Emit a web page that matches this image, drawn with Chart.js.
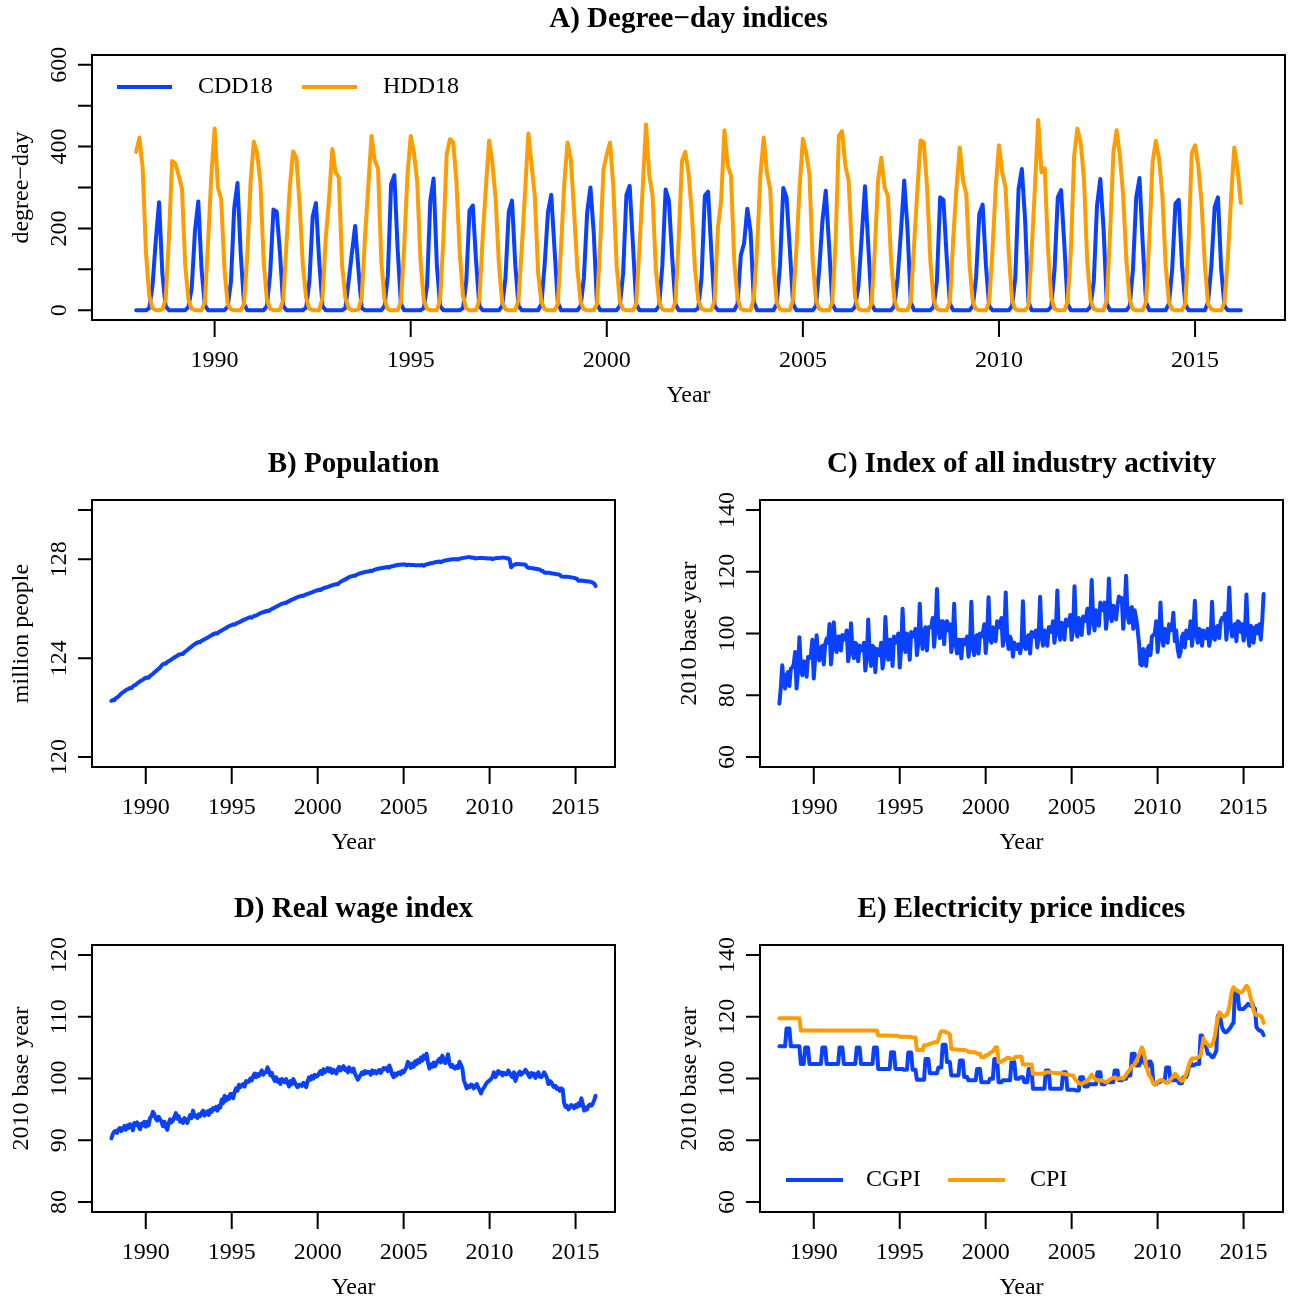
<!DOCTYPE html>
<html>
<head>
<meta charset="utf-8">
<script src="https://cdn.jsdelivr.net/npm/chart.js@4.4.0/dist/chart.umd.min.js"></script>
<style>
  body { margin: 0; background: #fff; }
  #page { position: relative; width: 1290px; height: 1298px; }
  #page canvas { position: absolute; left: 0; top: 0; }
</style>
</head>
<body>
<div id="page">
  <canvas id="panelA" width="1290" height="1298"></canvas>
  <canvas id="panelB" width="1290" height="1298"></canvas>
  <canvas id="panelC" width="1290" height="1298"></canvas>
  <canvas id="panelD" width="1290" height="1298"></canvas>
  <canvas id="panelE" width="1290" height="1298"></canvas>
</div>
<script>
// monthly series, Jan 1988 .. Mar 2016 (one row per year)
const cdd18 = [
  0,0,0,0,5,60,170,264,90,10,0,0,
  0,0,0,0,8,55,195,266,100,12,0,0,
  0,0,0,0,8,70,250,311,135,15,0,0,
  0,0,0,0,10,90,246,241,140,10,0,0,
  0,0,0,0,6,70,228,262,120,10,0,0,
  0,0,0,0,5,70,140,206,100,5,0,0,
  0,0,0,0,10,85,308,330,150,15,0,0,
  0,0,0,0,5,60,268,322,110,10,0,0,
  0,0,0,0,5,70,244,256,120,10,0,0,
  0,0,0,0,10,80,240,268,110,10,0,0,
  0,0,0,0,15,114,240,282,150,20,0,0,
  0,0,0,0,10,80,240,300,190,15,0,0,
  0,0,0,0,10,90,282,304,160,15,0,0,
  0,0,0,0,10,110,295,268,130,15,0,0,
  0,0,0,0,5,80,280,290,140,10,0,0,
  0,0,0,0,15,134,163,248,191,20,0,0,
  0,0,0,0,15,110,299,276,150,15,0,0,
  0,0,0,0,10,100,220,292,160,15,0,0,
  0,0,0,0,8,60,180,303,160,15,0,0,
  0,0,0,0,10,80,191,317,200,20,0,0,
  0,0,0,0,8,70,276,270,130,15,0,0,
  0,0,0,0,10,80,236,258,110,10,0,0,
  0,0,0,0,10,80,296,345,220,20,0,0,
  0,0,0,0,8,100,276,294,160,15,0,0,
  0,0,0,0,8,70,256,321,200,15,0,0,
  0,0,0,0,10,100,276,323,160,20,0,0,
  0,0,0,0,15,100,260,270,110,15,0,0,
  0,0,0,0,20,110,252,276,100,10,0,0,
  0,0,0
];

const hdd18 = [
  387,422,345,140,35,5,0,0,2,25,175,365,
  358,330,297,110,25,3,0,0,0,20,165,330,
  444,300,272,100,15,2,0,0,0,15,135,312,
  412,385,312,120,25,3,0,0,1,25,165,300,
  388,373,260,110,30,3,0,0,0,30,175,270,
  394,337,325,110,30,5,0,0,2,30,175,300,
  426,365,347,120,25,2,0,0,0,20,155,330,
  426,385,313,120,25,3,0,0,0,25,175,381,
  418,410,313,140,35,4,0,0,0,25,175,300,
  415,361,270,110,20,2,0,0,0,25,155,290,
  432,353,276,90,20,2,0,0,0,15,155,312,
  410,369,240,100,20,2,0,0,0,15,165,345,
  381,410,300,110,20,2,0,0,0,15,155,300,
  454,330,280,100,20,2,0,0,0,20,175,365,
  387,337,240,100,25,3,0,0,0,25,200,270,
  440,353,329,120,30,3,0,0,0,30,155,330,
  422,337,296,110,20,2,0,0,0,25,145,300,
  419,385,333,120,25,3,0,0,0,20,165,426,
  438,353,317,150,30,3,0,0,0,15,145,317,
  373,300,280,120,25,2,0,0,0,20,155,290,
  415,410,300,120,25,3,0,0,0,20,175,300,
  398,317,284,110,20,2,0,0,0,20,145,300,
  403,337,300,140,25,2,0,0,0,10,145,300,
  465,337,347,150,30,3,0,0,0,20,145,377,
  444,410,321,120,25,3,0,0,0,25,190,385,
  440,377,280,120,25,2,0,0,0,20,175,361,
  414,369,280,110,20,2,0,0,0,15,165,385,
  403,353,260,110,15,2,0,0,0,20,125,272,
  398,345,262
];

const population = [
  122.28,122.31,122.30,122.38,122.42,122.45,122.52,122.58,122.62,122.66,122.70,122.74,
  122.76,122.80,122.79,122.86,122.90,122.93,122.98,123.02,123.06,123.10,123.13,123.18,
  123.20,123.22,123.21,123.28,123.33,123.37,123.42,123.47,123.52,123.57,123.62,123.70,
  123.76,123.79,123.78,123.84,123.88,123.91,123.95,123.99,124.03,124.07,124.10,124.14,
  124.16,124.18,124.17,124.24,124.29,124.33,124.38,124.43,124.47,124.52,124.56,124.60,
  124.63,124.66,124.65,124.71,124.74,124.76,124.80,124.83,124.86,124.90,124.93,124.97,
  124.99,125.01,125.00,125.06,125.09,125.12,125.16,125.19,125.22,125.26,125.29,125.32,
  125.34,125.37,125.36,125.40,125.43,125.45,125.48,125.51,125.54,125.57,125.59,125.62,
  125.64,125.66,125.64,125.69,125.71,125.73,125.76,125.79,125.82,125.84,125.86,125.88,
  125.90,125.92,125.91,125.96,125.99,126.02,126.05,126.08,126.11,126.14,126.17,126.20,
  126.22,126.24,126.23,126.28,126.31,126.34,126.37,126.39,126.42,126.45,126.47,126.49,
  126.51,126.53,126.52,126.56,126.58,126.60,126.62,126.64,126.66,126.69,126.71,126.73,
  126.75,126.77,126.76,126.80,126.83,126.85,126.87,126.89,126.91,126.93,126.95,126.97,
  126.98,127.00,126.99,127.05,127.09,127.12,127.15,127.18,127.21,127.25,127.28,127.30,
  127.32,127.34,127.33,127.37,127.40,127.42,127.44,127.46,127.47,127.49,127.50,127.51,
  127.52,127.54,127.53,127.56,127.58,127.60,127.62,127.63,127.64,127.65,127.66,127.67,
  127.68,127.69,127.67,127.71,127.72,127.73,127.75,127.76,127.77,127.78,127.78,127.79,
  127.79,127.80,127.76,127.78,127.78,127.77,127.77,127.77,127.76,127.76,127.76,127.76,
  127.76,127.77,127.74,127.78,127.80,127.81,127.83,127.84,127.85,127.87,127.88,127.89,
  127.90,127.91,127.88,127.92,127.94,127.95,127.96,127.97,127.98,127.99,128.00,128.00,
  128.00,128.01,127.99,128.02,128.04,128.05,128.06,128.07,128.08,128.09,128.09,128.08,
  128.06,128.07,128.03,128.04,128.05,128.05,128.05,128.05,128.05,128.04,128.04,128.03,
  128.03,128.04,128.00,128.03,128.04,128.05,128.05,128.06,128.06,128.07,128.07,128.06,
  128.03,128.04,128.00,127.68,127.74,127.78,127.80,127.81,127.81,127.80,127.80,127.79,
  127.79,127.78,127.70,127.66,127.65,127.65,127.64,127.63,127.62,127.61,127.60,127.58,
  127.54,127.53,127.47,127.46,127.46,127.46,127.45,127.44,127.43,127.42,127.41,127.40,
  127.39,127.37,127.31,127.30,127.30,127.30,127.30,127.29,127.28,127.27,127.26,127.25,
  127.23,127.21,127.13,127.13,127.14,127.13,127.12,127.11,127.11,127.10,127.10,127.08,
  127.05,127.02,126.92
];

const industryIndex = [
  77.3,82.5,89.7,84.0,82.2,86.5,87.5,83.0,88.6,89.0,90.0,94.0,
  82.2,88.0,98.8,89.0,86.5,91.0,90.7,86.0,92.4,92.0,93.0,98.0,
  85.4,92.0,99.4,93.0,91.3,95.5,96.0,90.0,96.7,98.3,97.0,103.1,
  90.0,95.0,103.6,96.0,94.0,99.0,99.0,94.5,99.5,98.0,98.5,101.0,
  91.0,94.0,103.3,95.0,92.0,97.0,96.5,91.0,96.0,95.0,94.5,97.0,
  88.0,92.0,104.5,94.0,89.5,96.0,95.5,87.5,95.0,94.0,93.0,97.0,
  88.7,92.0,105.3,96.0,91.5,98.0,98.0,89.5,99.0,97.0,98.0,100.0,
  89.0,95.0,108.0,97.0,94.0,100.0,99.5,91.5,100.5,99.0,99.0,101.5,
  93.0,97.0,109.6,98.5,95.0,101.0,102.0,94.5,102.0,102.0,102.0,105.0,
  95.7,102.0,114.4,101.5,98.5,104.0,104.0,96.5,103.5,104.0,101.0,103.0,
  94.0,98.0,109.6,97.0,93.5,98.0,98.0,92.0,98.0,98.0,96.5,99.0,
  92.5,96.0,110.3,96.0,93.0,99.0,99.5,93.5,100.0,99.0,100.0,103.0,
  93.7,99.0,111.7,98.5,97.0,102.0,101.5,97.5,104.0,102.0,103.0,105.0,
  96.0,100.0,113.3,98.5,95.0,99.0,97.5,92.5,97.0,96.0,95.0,96.5,
  93.6,96.0,110.4,96.0,95.0,99.0,99.5,93.5,100.5,100.0,99.0,101.0,
  95.5,99.0,111.9,99.5,96.0,101.0,100.5,96.0,102.0,102.0,100.5,104.0,
  97.0,101.0,113.9,101.0,98.0,103.5,103.0,98.0,104.5,102.5,103.0,106.0,
  98.0,101.5,115.3,102.0,99.0,105.0,103.5,99.5,105.5,104.0,105.0,108.0,
  100.0,104.5,117.3,105.0,101.0,107.5,105.5,102.5,110.0,107.5,108.5,110.0,
  101.5,106.0,117.8,106.5,104.0,109.0,108.0,104.5,109.0,112.0,110.5,111.5,
  101.5,108.0,118.7,106.0,103.5,108.0,108.5,101.5,107.5,105.0,101.5,97.0,
  90.0,89.7,95.0,92.0,89.5,95.0,96.0,93.0,99.0,99.5,100.0,104.0,
  94.0,98.5,110.0,100.0,96.0,101.5,101.0,97.0,103.0,101.0,102.0,106.7,
  97.5,101.0,95.0,92.5,94.0,99.0,100.0,95.5,101.0,100.5,98.5,104.0,
  96.0,101.0,110.6,100.0,97.0,101.5,101.0,96.0,101.0,99.0,98.5,101.5,
  96.0,98.5,110.3,99.0,98.0,102.0,102.5,98.5,104.0,105.0,104.5,106.5,
  98.0,104.0,114.9,103.0,99.0,102.5,103.0,97.5,104.0,103.5,100.5,103.0,
  97.7,101.0,112.6,100.0,96.0,102.5,102.0,97.0,101.5,102.5,100.0,103.0,
  98.0,104.0,112.8
];

const realWage = [
  90.3,91.0,91.4,91.5,91.2,91.8,92.0,91.5,91.8,92.3,91.7,92.4,
  92.0,92.6,92.3,91.6,92.8,92.5,92.9,92.2,91.8,92.7,92.4,93.0,
  92.2,93.0,92.4,93.6,93.9,94.6,94.2,93.5,93.2,93.8,93.4,93.0,
  92.3,93.0,92.1,91.7,92.8,93.4,92.9,93.2,93.8,94.4,93.5,93.9,
  93.0,93.3,92.8,93.6,93.2,92.8,93.5,94.1,93.6,94.8,93.9,94.0,
  93.6,94.2,93.9,94.5,94.8,94.0,94.3,94.7,94.1,94.9,94.6,95.2,
  95.0,95.4,94.8,95.6,95.3,96.6,96.0,97.2,96.4,97.0,96.7,97.5,
  97.5,96.8,97.8,98.4,98.0,99.0,98.6,98.9,99.1,98.7,99.6,99.4,
  99.5,100.0,99.7,100.4,100.8,100.2,100.7,100.4,100.9,101.3,100.6,101.0,
  101.0,101.8,101.2,100.5,100.9,100.1,99.6,100.2,99.5,99.8,99.1,99.9,
  99.7,99.4,99.9,99.3,98.7,99.6,99.1,99.9,99.4,98.9,98.6,99.0,
  99.0,98.8,99.3,99.0,98.6,99.6,100.2,99.8,100.4,100.0,100.6,100.3,
  100.4,100.9,101.2,100.7,101.5,101.0,101.3,101.7,101.2,101.6,100.9,101.4,
  101.2,100.8,101.5,101.9,101.3,101.7,102.0,101.4,101.6,101.0,101.8,101.3,
  101.1,101.6,100.8,100.3,99.8,100.2,100.6,101.0,100.7,101.2,100.9,101.1,
  101.0,100.6,101.3,100.9,101.2,100.8,101.1,101.4,100.9,101.3,101.7,101.5,
  101.7,101.2,102.1,101.5,100.6,100.2,100.8,100.5,100.9,101.0,100.7,101.2,
  101.0,101.4,101.9,102.7,102.2,101.7,102.4,101.9,102.8,102.3,103.0,102.6,
  103.4,102.9,103.7,103.2,104.0,102.6,101.6,102.3,101.9,102.6,102.0,102.5,
  102.9,103.2,102.6,103.7,103.0,102.5,103.1,103.9,102.4,101.9,102.2,101.7,
  101.6,102.0,101.7,102.7,102.2,101.6,99.7,99.1,98.4,98.8,98.6,99.0,
  98.9,98.4,98.7,99.1,98.6,98.1,97.6,98.2,98.5,98.9,99.3,99.5,
  99.7,99.9,100.3,101.0,100.2,100.6,101.2,100.8,101.0,100.5,100.9,100.7,
  100.7,101.3,100.9,100.4,100.2,101.0,99.6,100.3,100.8,101.1,100.6,100.9,
  101.0,101.4,101.1,100.6,100.2,100.9,100.5,100.8,100.1,100.6,101.0,100.3,
  100.2,100.5,101.0,100.6,100.1,99.1,99.6,99.4,98.9,98.6,98.8,98.3,
  98.4,98.0,98.4,98.2,96.0,95.4,95.6,95.0,95.3,95.7,95.5,95.2,
  95.7,95.4,96.0,95.6,96.8,95.9,94.8,95.3,95.0,95.6,95.8,95.6,
  95.9,96.5,97.2
];

const cgpiElec = [
  110.4,110.4,110.4,110.4,110.4,116.2,116.2,116.2,110.4,110.4,110.4,110.4,
  110.4,110.4,110.4,104.7,104.7,104.7,110.0,110.0,110.0,104.7,104.7,104.7,
  104.7,104.7,104.7,104.7,104.7,104.7,110.0,110.0,110.0,104.7,104.7,104.7,
  104.7,104.7,104.7,104.7,104.7,104.7,110.0,110.0,110.0,104.7,104.7,104.7,
  104.7,104.7,104.7,104.7,104.7,104.7,110.0,110.0,110.0,104.7,104.7,104.7,
  104.7,104.7,104.7,104.7,104.7,104.7,110.0,110.0,110.0,103.1,103.1,103.1,
  103.1,103.1,103.1,103.1,103.1,103.1,108.5,108.5,108.5,103.1,103.1,103.1,
  103.1,103.1,103.1,102.8,102.8,102.8,108.4,108.4,108.4,102.8,102.8,102.8,
  99.6,99.6,99.6,99.6,99.6,99.6,106.3,106.3,106.3,101.7,101.7,101.7,
  101.7,101.7,101.7,103.6,103.6,103.6,110.9,110.9,110.9,105.3,105.3,105.3,
  101.0,101.0,101.0,101.0,101.0,101.0,105.8,105.8,105.8,100.5,100.5,100.5,
  99.4,99.4,99.4,99.4,99.4,99.4,103.1,103.1,103.1,98.8,98.8,98.8,
  98.8,98.8,98.8,99.9,99.9,99.9,106.3,106.3,106.3,98.8,98.8,98.8,
  99.4,99.4,99.4,99.4,99.4,99.4,105.3,105.3,105.3,99.9,99.9,99.9,
  100.4,100.4,100.4,98.8,98.8,98.8,103.1,103.1,103.1,96.7,96.7,96.7,
  96.7,96.7,96.7,96.7,96.7,96.7,102.6,102.6,102.6,96.7,96.7,96.7,
  96.7,96.7,96.7,96.7,96.7,96.7,102.0,102.0,102.0,96.4,96.4,96.4,
  96.4,96.4,96.4,96.1,96.1,96.1,100.4,100.4,100.4,97.4,97.4,97.4,
  98.1,98.1,98.1,98.1,98.1,98.1,102.0,102.0,102.0,98.1,98.1,98.1,
  98.8,98.8,98.8,98.8,98.8,98.8,102.6,102.6,102.6,99.4,99.4,99.4,
  99.9,99.9,99.9,101.0,101.0,101.0,108.0,108.0,108.0,104.2,104.2,104.2,
  105.0,108.0,107.5,105.0,104.0,103.5,105.5,105.5,104.5,98.5,98.1,98.1,
  98.8,98.8,99.0,99.4,99.4,99.4,103.6,103.6,103.6,99.4,99.4,99.4,
  99.4,99.6,99.4,98.5,98.5,98.5,100.4,100.4,100.4,102.0,104.0,105.3,
  104.2,104.2,104.5,104.7,104.7,104.7,113.9,113.9,112.0,111.2,110.0,108.0,
  108.0,107.5,106.9,107.0,108.0,109.0,120.3,120.3,119.0,116.6,115.5,115.0,
  115.0,115.5,116.0,116.6,117.5,118.0,128.4,128.4,127.0,122.5,122.5,122.5,
  122.5,123.0,123.5,124.1,124.0,123.5,124.5,123.0,122.5,116.6,116.0,115.5,
  115.5,115.0,114.0
];

const cpiElec = [
  119.5,119.5,119.5,119.5,119.5,119.5,119.5,119.5,119.5,119.5,119.5,119.5,
  119.5,119.5,119.5,115.5,115.5,115.5,115.5,115.5,115.5,115.5,115.5,115.5,
  115.5,115.5,115.5,115.5,115.5,115.5,115.5,115.5,115.5,115.5,115.5,115.5,
  115.5,115.5,115.5,115.5,115.5,115.5,115.5,115.5,115.5,115.5,115.5,115.5,
  115.5,115.5,115.5,115.5,115.5,115.5,115.5,115.5,115.5,115.5,115.5,115.5,
  115.5,115.5,115.5,115.5,115.5,115.5,115.5,115.5,115.5,113.9,113.9,113.9,
  113.9,113.9,113.9,113.9,113.9,113.9,113.8,113.8,113.8,113.8,113.8,113.8,
  113.5,113.5,113.5,113.5,113.5,113.5,113.4,113.4,113.4,113.3,113.3,113.3,
  109.2,109.2,109.2,109.2,109.2,110.8,110.8,110.8,111.0,111.2,111.3,111.5,
  111.7,111.7,111.7,112.6,114.3,115.3,115.3,115.3,115.0,115.0,114.6,114.3,
  109.5,109.5,109.5,109.4,109.4,109.3,109.3,109.3,109.2,109.2,109.1,109.0,
  108.6,108.6,108.6,108.5,108.5,108.4,108.0,108.0,108.0,106.9,106.9,106.9,
  107.5,107.5,107.8,108.3,108.5,108.8,109.5,110.1,110.1,105.3,105.3,105.5,
  105.8,106.0,106.3,106.7,106.7,106.5,106.3,106.3,106.5,107.0,107.0,107.0,
  107.0,107.0,104.5,104.5,104.5,104.5,104.5,104.5,104.5,101.5,101.5,101.5,
  101.5,101.5,101.5,101.6,101.6,101.6,102.0,102.0,102.0,102.0,102.0,101.8,
  101.8,101.8,101.8,101.7,101.7,101.6,101.6,101.5,101.4,101.3,101.2,101.1,
  101.0,101.0,100.0,99.4,99.0,98.5,98.3,98.3,98.5,98.8,99.0,99.3,
  100.0,100.5,101.3,100.5,100.0,99.6,99.5,99.2,99.3,99.5,99.2,99.0,
  98.8,99.0,99.5,99.8,100.0,100.2,100.4,100.0,99.8,100.0,100.2,100.0,
  100.0,100.5,101.2,102.0,102.5,103.2,104.0,104.2,104.5,105.5,106.5,107.5,
  109.0,110.1,109.0,107.0,104.0,102.5,101.0,100.5,99.5,98.5,98.0,98.3,
  99.0,99.2,99.5,99.5,99.2,98.9,98.6,98.6,99.0,99.6,100.2,100.8,
  101.5,101.2,100.5,100.0,99.5,99.2,99.5,100.5,101.5,103.0,104.5,105.8,
  106.5,106.5,106.5,106.6,106.8,107.0,107.5,110.0,113.0,112.0,111.5,111.0,
  110.5,110.5,111.0,112.0,114.0,117.0,119.5,121.4,121.0,120.2,120.0,120.3,
  120.5,121.5,123.0,126.0,128.5,129.5,129.0,128.5,128.3,128.0,127.8,128.0,
  128.5,129.3,130.0,129.5,128.0,126.0,124.0,122.0,121.0,120.5,120.5,120.3,
  120.3,119.5,118.0
];

// time axis in decimal years, ticks and tick labels
const months = cdd18.map((_, i) => 1988 + i / 12);
const yearTicks = [1990, 1995, 2000, 2005, 2010, 2015];
const degreeTicks = [0, 100, 200, 300, 400, 500, 600];
const degreeLabels = [0, 200, 400, 600];
const popTicks = [120, 124, 128, 130];
const popLabels = [120, 124, 128];
const indexTicks = [60, 80, 100, 120, 140];
const wageTicks = [80, 90, 100, 110, 120];

const BLUE = '#0a40ff';
const ORANGE = '#ff9c00';
const SERIF = '"Liberation Serif", "Times New Roman", Times, serif';

// x range with R-style 4% padding around the data
const span = months[months.length - 1] - months[0];
const xMin = months[0] - 0.04 * span;
const xMax = months[months.length - 1] + 0.04 * span;

function padRange(lo, hi) {
  const p = 0.04 * (hi - lo);
  return [lo - p, hi + p];
}

function framePlugin(spec) {
  return {
    id: 'rframe',
    afterDraw(chart) {
      const { ctx, chartArea: a } = chart;
      const x = chart.scales.x, y = chart.scales.y;
      ctx.save();
      ctx.strokeStyle = '#000';
      ctx.lineWidth = 2;
      ctx.strokeRect(a.left, a.top, a.right - a.left, a.bottom - a.top);

      ctx.beginPath();
      yearTicks.forEach(t => {
        const px = x.getPixelForValue(t);
        ctx.moveTo(px, a.bottom);
        ctx.lineTo(px, a.bottom + 17);
      });
      spec.yTicks.forEach(v => {
        const py = y.getPixelForValue(v);
        ctx.moveTo(a.left, py);
        ctx.lineTo(a.left - 14, py);
      });
      ctx.stroke();

      ctx.fillStyle = '#000';
      ctx.textAlign = 'center';
      ctx.textBaseline = 'middle';
      ctx.font = '24px ' + SERIF;
      yearTicks.forEach(t => ctx.fillText(String(t), x.getPixelForValue(t), a.bottom + 41));
      ctx.fillText('Year', (a.left + a.right) / 2, a.bottom + 76);

      spec.yLabels.forEach(v => {
        ctx.save();
        ctx.translate(a.left - 32, y.getPixelForValue(v));
        ctx.rotate(-Math.PI / 2);
        ctx.fillText(String(v), 0, 0);
        ctx.restore();
      });

      ctx.save();
      ctx.translate(a.left - 70, (a.top + a.bottom) / 2);
      ctx.rotate(-Math.PI / 2);
      ctx.fillText(spec.yTitle, 0, 0);
      ctx.restore();

      ctx.font = 'bold 29px ' + SERIF;
      ctx.fillText(spec.title, (a.left + a.right) / 2, a.top - 35);

      if (spec.legend) {
        ctx.font = '24px ' + SERIF;
        ctx.textAlign = 'left';
        ctx.lineWidth = 4;
        spec.legend.items.forEach(it => {
          ctx.strokeStyle = it.color;
          ctx.beginPath();
          ctx.moveTo(it.x0, spec.legend.y);
          ctx.lineTo(it.x1, spec.legend.y);
          ctx.stroke();
          ctx.fillText(it.label, it.tx, spec.legend.y);
        });
      }
      ctx.restore();
    }
  };
}

function makePanel(id, spec) {
  const [l, t, r, b] = spec.box;
  const [yMin, yMax] = padRange(spec.yLim[0], spec.yLim[1]);
  return new Chart(document.getElementById(id), {
    type: 'line',
    data: {
      datasets: spec.series.map((s, k) => ({
        label: s.label,
        data: s.values.map((v, i) => ({ x: months[i], y: v })),
        borderColor: s.color,
        borderWidth: 4,
        borderJoinStyle: 'round',
        borderCapStyle: 'round',
        pointRadius: 0,
        tension: 0,
        fill: false,
        order: spec.series.length - k
      }))
    },
    options: {
      responsive: false,
      animation: false,
      devicePixelRatio: 1,
      layout: { padding: { left: l, top: t, right: 1290 - r, bottom: 1298 - b } },
      plugins: { legend: { display: false }, tooltip: { enabled: false }, title: { display: false } },
      scales: {
        x: { type: 'linear', display: false, min: xMin, max: xMax },
        y: { type: 'linear', display: false, min: yMin, max: yMax }
      }
    },
    plugins: [framePlugin(spec)]
  });
}

makePanel('panelA', {
  box: [92, 55, 1285, 320],
  yLim: [0, 600],
  yTicks: degreeTicks,
  yLabels: degreeLabels,
  yTitle: 'degree\u2212day',
  title: 'A) Degree\u2212day indices',
  series: [
    { label: 'CDD18', values: cdd18, color: BLUE },
    { label: 'HDD18', values: hdd18, color: ORANGE }
  ],
  legend: {
    y: 87,
    items: [
      { label: 'CDD18', color: BLUE, x0: 117, x1: 172, tx: 198 },
      { label: 'HDD18', color: ORANGE, x0: 302, x1: 357, tx: 383 }
    ]
  }
});

makePanel('panelB', {
  box: [92, 500, 615, 767],
  yLim: [120, 130],
  yTicks: popTicks,
  yLabels: popLabels,
  yTitle: 'million people',
  title: 'B) Population',
  series: [{ label: 'Population', values: population, color: BLUE }]
});

makePanel('panelC', {
  box: [760, 500, 1283, 767],
  yLim: [60, 140],
  yTicks: indexTicks,
  yLabels: indexTicks,
  yTitle: '2010 base year',
  title: 'C) Index of all industry activity',
  series: [{ label: 'Industry', values: industryIndex, color: BLUE }]
});

makePanel('panelD', {
  box: [92, 945, 615, 1212],
  yLim: [80, 120],
  yTicks: wageTicks,
  yLabels: wageTicks,
  yTitle: '2010 base year',
  title: 'D) Real wage index',
  series: [{ label: 'Real wage', values: realWage, color: BLUE }]
});

makePanel('panelE', {
  box: [760, 945, 1283, 1212],
  yLim: [60, 140],
  yTicks: indexTicks,
  yLabels: indexTicks,
  yTitle: '2010 base year',
  title: 'E) Electricity price indices',
  series: [
    { label: 'CGPI', values: cgpiElec, color: BLUE },
    { label: 'CPI', values: cpiElec, color: ORANGE }
  ],
  legend: {
    y: 1180,
    items: [
      { label: 'CGPI', color: BLUE, x0: 786, x1: 843, tx: 866 },
      { label: 'CPI', color: ORANGE, x0: 948, x1: 1005, tx: 1030 }
    ]
  }
});
</script>
</body>
</html>
